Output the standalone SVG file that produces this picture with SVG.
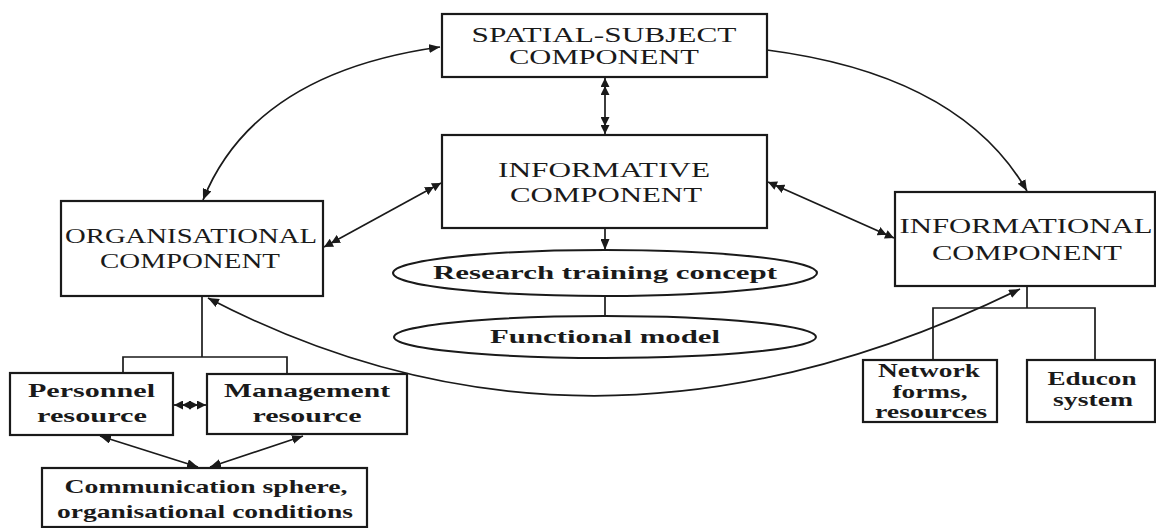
<svg xmlns="http://www.w3.org/2000/svg" width="1156" height="528" viewBox="0 0 1156 528">
<style>
.box{fill:#fff;stroke:#1a1a1a;stroke-width:2.2}
.ell{fill:#fff;stroke:#1a1a1a;stroke-width:2}
.t{font-family:"Liberation Serif","Times New Roman",serif;font-size:21px;fill:#1a1a1a;text-anchor:middle}
.b{font-weight:bold;font-size:19.5px}
.ln{fill:none;stroke:#1a1a1a;stroke-width:1.7}
</style>
<defs>
<marker id="arr" viewBox="0 0 11 9" refX="11" refY="4.5" markerWidth="11" markerHeight="9" markerUnits="userSpaceOnUse" orient="auto-start-reverse"><path d="M0,0 L11,4.5 L0,9 z" fill="#1a1a1a"/></marker>
<marker id="dbl" viewBox="0 0 17 9" refX="17" refY="4.5" markerWidth="17" markerHeight="9" markerUnits="userSpaceOnUse" orient="auto-start-reverse"><path d="M0,0 L9,4.5 L0,9 z M8,0 L17,4.5 L8,9 z" fill="#1a1a1a"/></marker>
</defs>
<g id="connectors">
<line class="ln" x1="605" y1="78" x2="605" y2="134" marker-start="url(#dbl)" marker-end="url(#dbl)"/>
<line class="ln" x1="324" y1="247" x2="441" y2="183" marker-start="url(#dbl)" marker-end="url(#dbl)"/>
<line class="ln" x1="768" y1="182" x2="894" y2="238" marker-start="url(#dbl)" marker-end="url(#dbl)"/>
<line class="ln" x1="605" y1="229" x2="605" y2="250" marker-end="url(#arr)"/>
<line class="ln" x1="605" y1="296" x2="605" y2="315"/>
<path class="ln" d="M203,200 Q254,73 440,47" marker-start="url(#arr)" marker-end="url(#arr)"/>
<path class="ln" d="M767,50 Q960,75 1027,191" marker-end="url(#arr)"/>
<path class="ln" d="M208,298 Q592,498 1020,289" marker-start="url(#arr)" marker-end="url(#arr)"/>
<polyline class="ln" points="202,297 202,357"/>
<polyline class="ln" points="123,373 123,357 287,357 287,373"/>
<line class="ln" x1="174" y1="405" x2="206" y2="405" marker-start="url(#dbl)" marker-end="url(#dbl)"/>
<line class="ln" x1="100" y1="436" x2="198" y2="467" marker-start="url(#arr)" marker-end="url(#arr)"/>
<line class="ln" x1="303" y1="436" x2="210" y2="467" marker-start="url(#arr)" marker-end="url(#arr)"/>
<polyline class="ln" points="1027,287 1027,308"/>
<polyline class="ln" points="933,360 933,308 1095,308 1095,360"/>
</g>
<g id="spatial">
<rect class="box" x="442" y="14" width="325" height="63"/>
<text class="t" x="604" y="42" textLength="265" lengthAdjust="spacingAndGlyphs">SPATIAL-SUBJECT</text>
<text class="t" x="604" y="64" textLength="190" lengthAdjust="spacingAndGlyphs">COMPONENT</text>
</g>
<g id="informative">
<rect class="box" x="442" y="135" width="325" height="93"/>
<text class="t" x="604" y="177" textLength="212" lengthAdjust="spacingAndGlyphs">INFORMATIVE</text>
<text class="t" x="606" y="202" textLength="192" lengthAdjust="spacingAndGlyphs">COMPONENT</text>
</g>
<g id="organisational">
<rect class="box" x="61" y="201" width="262" height="95"/>
<text class="t" x="191" y="243" textLength="252" lengthAdjust="spacingAndGlyphs">ORGANISATIONAL</text>
<text class="t" x="190" y="268" textLength="180" lengthAdjust="spacingAndGlyphs">COMPONENT</text>
</g>
<g id="informational">
<rect class="box" x="895" y="192" width="260" height="94"/>
<text class="t" x="1026" y="233" textLength="253" lengthAdjust="spacingAndGlyphs">INFORMATIONAL</text>
<text class="t" x="1027" y="260" textLength="190" lengthAdjust="spacingAndGlyphs">COMPONENT</text>
</g>
<g id="research">
<ellipse class="ell" cx="605" cy="273" rx="212" ry="23"/>
<text class="t b" x="605" y="279" textLength="344" lengthAdjust="spacingAndGlyphs">Research training concept</text>
</g>
<g id="functional">
<ellipse class="ell" cx="605" cy="337" rx="211" ry="21"/>
<text class="t b" x="605" y="343" textLength="230" lengthAdjust="spacingAndGlyphs">Functional model</text>
</g>
<g id="personnel">
<rect class="box" x="10" y="373" width="163" height="62"/>
<text class="t b" x="91.5" y="397" textLength="127" lengthAdjust="spacingAndGlyphs">Personnel</text>
<text class="t b" x="92" y="422" textLength="110" lengthAdjust="spacingAndGlyphs">resource</text>
</g>
<g id="management">
<rect class="box" x="207" y="374" width="200" height="60"/>
<text class="t b" x="307" y="397" textLength="166" lengthAdjust="spacingAndGlyphs">Management</text>
<text class="t b" x="307" y="422" textLength="109" lengthAdjust="spacingAndGlyphs">resource</text>
</g>
<g id="communication">
<rect class="box" x="42" y="468" width="325" height="59"/>
<text class="t b" x="206" y="493" textLength="283" lengthAdjust="spacingAndGlyphs">Communication sphere,</text>
<text class="t b" x="205" y="518" textLength="296" lengthAdjust="spacingAndGlyphs">organisational conditions</text>
</g>
<g id="network">
<rect class="box" x="863" y="360" width="134" height="62"/>
<text class="t b" x="929" y="377" font-size="18" textLength="102" lengthAdjust="spacingAndGlyphs">Network</text>
<text class="t b" x="930" y="398" font-size="18" textLength="75" lengthAdjust="spacingAndGlyphs">forms,</text>
<text class="t b" x="931" y="418" font-size="18" textLength="112" lengthAdjust="spacingAndGlyphs">resources</text>
</g>
<g id="educon">
<rect class="box" x="1027" y="360" width="128" height="62"/>
<text class="t b" x="1092" y="385" textLength="89" lengthAdjust="spacingAndGlyphs">Educon</text>
<text class="t b" x="1093" y="406" textLength="80" lengthAdjust="spacingAndGlyphs">system</text>
</g>
</svg>
